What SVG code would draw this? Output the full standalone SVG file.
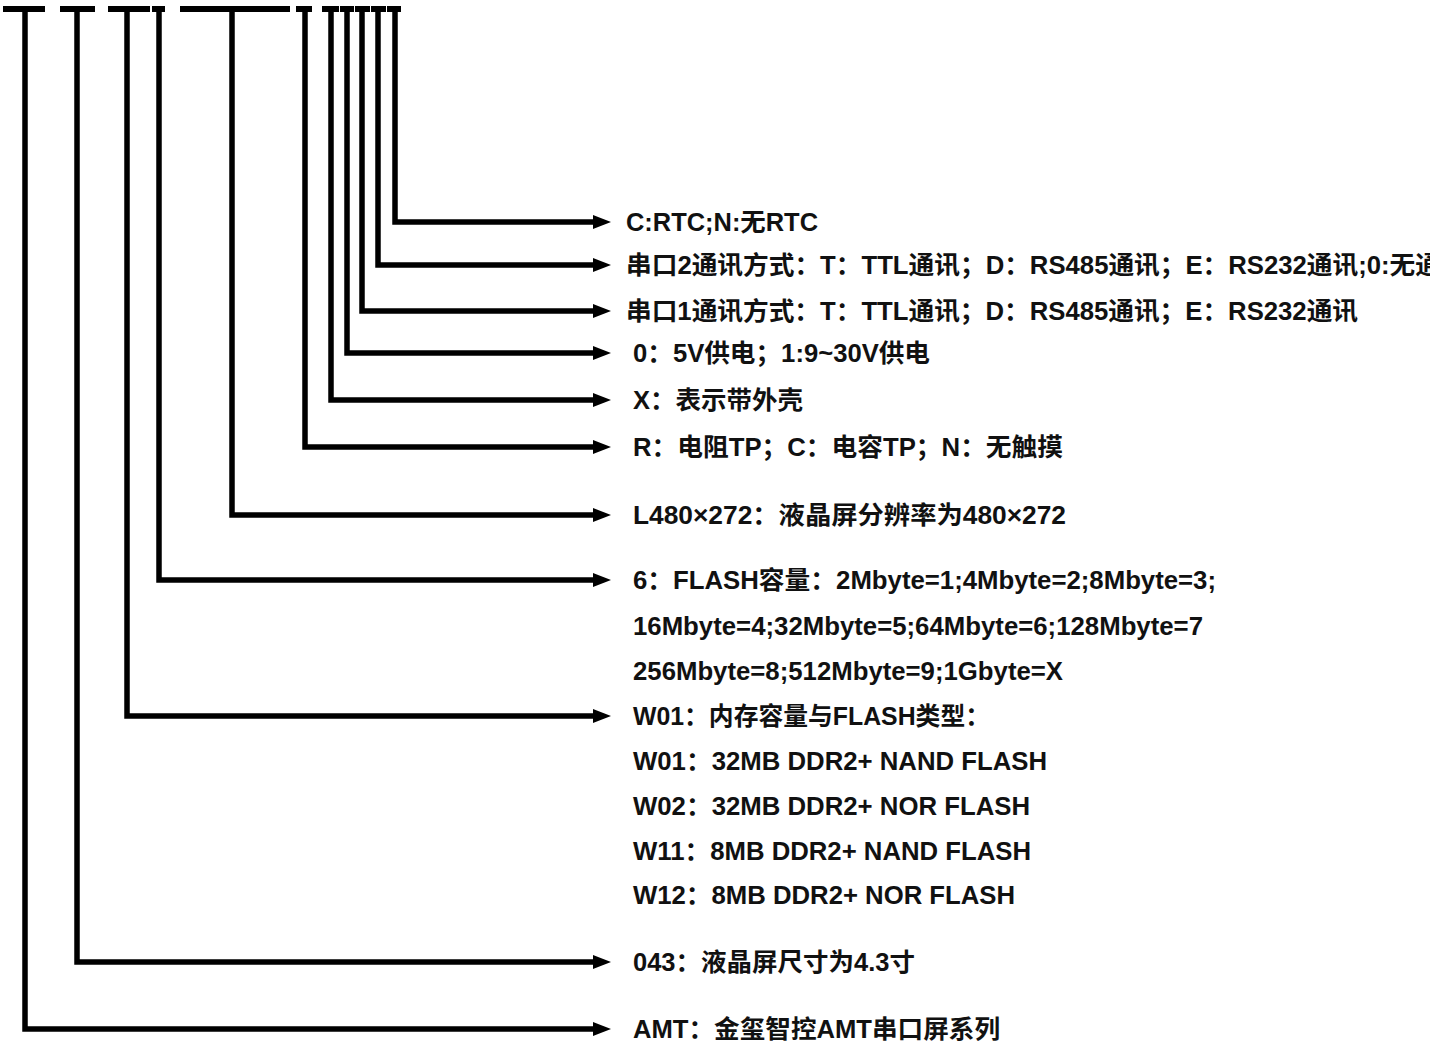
<svg xmlns="http://www.w3.org/2000/svg" width="1430" height="1043" viewBox="0 0 1430 1043">
<defs>
<style>
.ln{fill:none;stroke:#000;stroke-width:5.5;stroke-linejoin:miter;stroke-linecap:butt}
.bar{fill:none;stroke:#000;stroke-width:6}
.t{font-family:"Liberation Sans","Noto Sans CJK SC",sans-serif;font-weight:bold;font-size:25px;fill:#111}
</style>
<marker id="ah" markerUnits="userSpaceOnUse" markerWidth="20" markerHeight="16" refX="1" refY="8" orient="auto">
<path d="M0,1 L18,8 L0,15 Z" fill="#000"/>
</marker>
</defs>
<rect width="1430" height="1043" fill="#fff"/>
<g id="topbars">
<path class="bar" d="M3,9H45 M60,9H95 M108,9H150 M152,9H165 M180,9H290 M296,9H312 M322,9H339 M340,9H354 M355,9H370 M371,9H386 M387,9H401"/>
</g>
<g id="connectors">
<path class="ln" d="M25,9V1029H594" marker-end="url(#ah)"/>
<path class="ln" d="M77,9V962H594" marker-end="url(#ah)"/>
<path class="ln" d="M127,9V716H594" marker-end="url(#ah)"/>
<path class="ln" d="M159,9V580H594" marker-end="url(#ah)"/>
<path class="ln" d="M232,9V515H594" marker-end="url(#ah)"/>
<path class="ln" d="M305,9V447H594" marker-end="url(#ah)"/>
<path class="ln" d="M331,9V400H594" marker-end="url(#ah)"/>
<path class="ln" d="M347,9V353H594" marker-end="url(#ah)"/>
<path class="ln" d="M362,9V311H594" marker-end="url(#ah)"/>
<path class="ln" d="M378,9V265H594" marker-end="url(#ah)"/>
<path class="ln" d="M395,9V222H594" marker-end="url(#ah)"/>
</g>
<g id="n-rtc"><text class="t" x="626" y="231" textLength="192" lengthAdjust="spacingAndGlyphs">C:RTC;N:无RTC</text></g>
<g id="n-uart2"><text class="t" x="626" y="274" textLength="815" lengthAdjust="spacingAndGlyphs">串口2通讯方式：T：TTL通讯；D：RS485通讯；E：RS232通讯;0:无通</text></g>
<g id="n-uart1"><text class="t" x="626" y="320" textLength="732" lengthAdjust="spacingAndGlyphs">串口1通讯方式：T：TTL通讯；D：RS485通讯；E：RS232通讯</text></g>
<g id="n-power"><text class="t" x="633" y="362" textLength="297" lengthAdjust="spacingAndGlyphs">0：5V供电；1:9~30V供电</text></g>
<g id="n-case"><text class="t" x="633" y="409" textLength="170" lengthAdjust="spacingAndGlyphs">X：表示带外壳</text></g>
<g id="n-tp"><text class="t" x="633" y="456" textLength="430" lengthAdjust="spacingAndGlyphs">R：电阻TP；C：电容TP；N：无触摸</text></g>
<g id="n-res"><text class="t" x="633" y="524" textLength="433" lengthAdjust="spacingAndGlyphs">L480×272：液晶屏分辨率为480×272</text></g>
<g id="n-flash">
<text class="t" x="633" y="589" textLength="583" lengthAdjust="spacingAndGlyphs">6：FLASH容量：2Mbyte=1;4Mbyte=2;8Mbyte=3;</text>
<text class="t" x="633" y="635" textLength="570" lengthAdjust="spacingAndGlyphs">16Mbyte=4;32Mbyte=5;64Mbyte=6;128Mbyte=7</text>
<text class="t" x="633" y="680" textLength="430" lengthAdjust="spacingAndGlyphs">256Mbyte=8;512Mbyte=9;1Gbyte=X</text>
</g>
<g id="n-mem">
<text class="t" x="633" y="725" textLength="357" lengthAdjust="spacingAndGlyphs">W01：内存容量与FLASH类型：</text>
<text class="t" x="633" y="770" textLength="414" lengthAdjust="spacingAndGlyphs">W01：32MB DDR2+ NAND FLASH</text>
<text class="t" x="633" y="815" textLength="397" lengthAdjust="spacingAndGlyphs">W02：32MB DDR2+ NOR FLASH</text>
<text class="t" x="633" y="860" textLength="398" lengthAdjust="spacingAndGlyphs">W11：8MB DDR2+ NAND FLASH</text>
<text class="t" x="633" y="904" textLength="382" lengthAdjust="spacingAndGlyphs">W12：8MB DDR2+ NOR FLASH</text>
</g>
<g id="n-size"><text class="t" x="633" y="971" textLength="282" lengthAdjust="spacingAndGlyphs">043：液晶屏尺寸为4.3寸</text></g>
<g id="n-series"><text class="t" x="633" y="1038" textLength="367" lengthAdjust="spacingAndGlyphs">AMT：金玺智控AMT串口屏系列</text></g>
</svg>
